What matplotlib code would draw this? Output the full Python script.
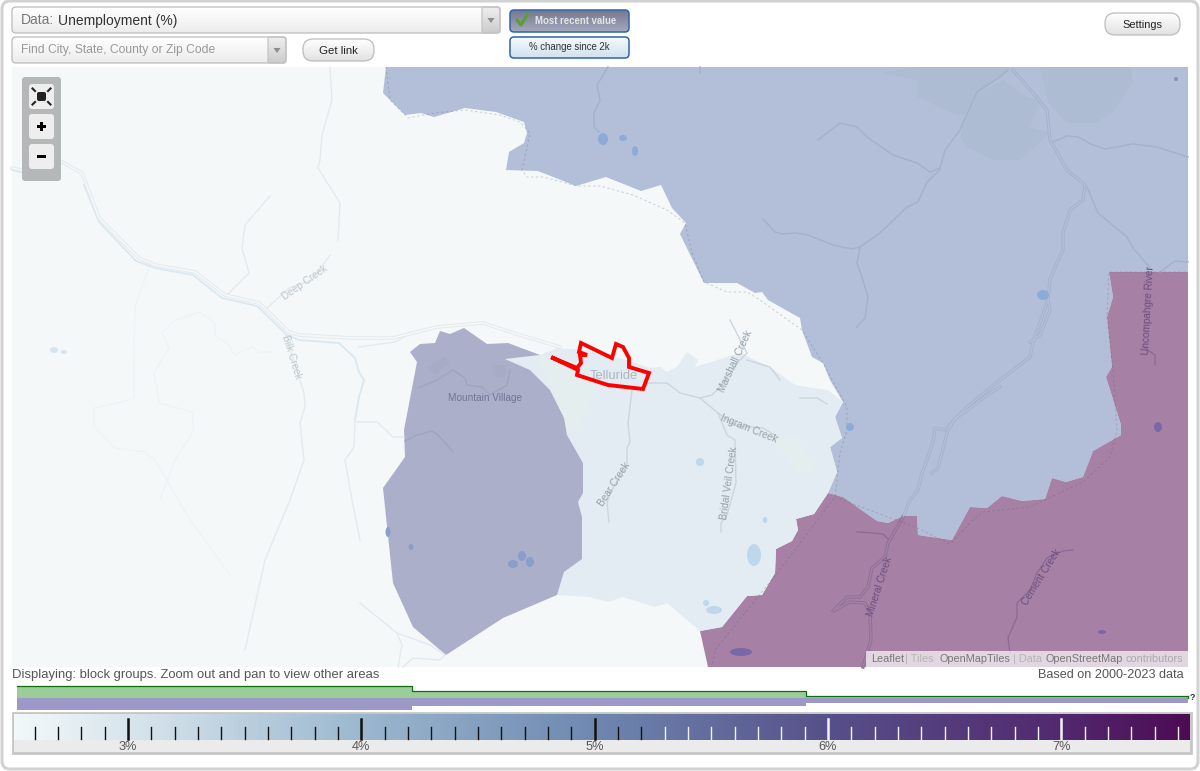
import numpy as np
import matplotlib
matplotlib.use("Agg")
import matplotlib.pyplot as plt
from matplotlib.patches import Polygon, FancyBboxPatch, Rectangle
from matplotlib.colors import LinearSegmentedColormap

plt.rcParams['font.family'] = ['Liberation Sans', 'DejaVu Sans']

# ---------- data ----------
east_edge = [(843,402),(835,417),(842,438),(830,447),(837,472),(828,493),(843,497),(877,521),(888,523),(903,516),(917,516),(918,535),(952,540),(970,507),(987,508),(1002,496),(1022,501),(1045,499),(1052,478),(1066,482),(1083,477),(1093,451),(1121,435),(1121,425),(1106,377),(1112,367),(1107,317),(1113,297),(1109,272),(1188,272)]
blue_region = [(386,67),(383,93),(405,115),(421,113),(434,117),(465,108),(496,112),(524,122),(527,133),(524,143),(509,152),(506,170),(538,171),(576,186),(606,177),(641,191),(661,185),(672,208),(686,223),(680,234),(704,283),(737,283),(755,293),(762,292),(768,300),(800,318),(802,330),(812,357),(823,363),(830,380)] + east_edge + [(1188,67)]
purple_region = [(700,631),(722,627),(747,596),(762,595),(775,573),(776,549),(792,541),(798,530),(796,519),(814,514)] + east_edge[5:] + [(1188,667),(708,667)]
village_region = [(410,352),(420,344),(435,343),(440,331),(450,334),(464,328),(487,344),(508,343),(540,355),(505,359),(530,370),(550,390),(564,418),(567,435),(583,463),(583,493),(578,502),(582,517),(582,559),(564,572),(557,595),(503,618),(446,655),(413,627),(393,583),(383,488),(405,457),(404,430),(417,362)]
light_region = [(505,359),(540,355),(557,348),(585,350),(627,360),(650,368),(660,367),(667,372),(677,367),(687,352),(698,360),(695,367),(740,353),(770,367),(795,385),(813,388),(828,390),(843,402),(835,417),(842,438),(830,447),(837,472),(828,493),(814,514),(796,519),(798,530),(792,541),(776,549),(775,573),(762,595),(747,596),(722,627),(700,631),(667,603),(655,607),(623,597),(608,602),(590,597),(557,595),(564,572),(582,559),(582,517),(578,502),(583,493),(583,463),(567,435),(564,418),(550,390),(530,370)]
park_regions = [
    [(540,355),(580,363),(600,383),(590,400),(577,430),(567,433),(553,393),(542,367)],
    [(762,427),(782,438),(800,437),(803,458),(817,458),(810,472),(797,470),(780,448),(763,437)],
]
urban_regions = [
    [(882,73),(916,67),(1010,67),(1000,77),(977,92),(972,103),(965,115),(957,115),(917,97),(917,80)],
    [(960,137),(970,110),(977,93),(1003,80),(1027,97),(1040,100),(1030,127),(1050,133),(1020,160),(993,160),(967,147)],
    [(1040,67),(1130,67),(1133,83),(1112,113),(1095,123),(1067,123),(1048,103)],
]
village_patches = [[(428,367),(445,356),(450,363),(435,375)],[(492,365),(507,365),(505,377),(495,378)]]
town_outline = [(553,358),(577,368),(581,363),(580,355),(587,355),(579,352),(581,343),(612,358),(616,344),(623,347),(629,358),(629,367),(649,373),(643,389),(608,385),(577,375),(578,370),(553,358)]

road_bg = [
    [(12,168),(29,172),(62,162),(82,173),(99,218),(139,258),(155,265),(195,272),(225,295),(259,303),(289,332),(299,335),(352,338),(393,338),(437,327),(483,323),(520,335),(560,347)],
]
river_water = [
    [(12,170),(29,174),(50,171)],
    [(84,185),(99,222),(136,261),(155,268),(193,275),(222,298),(257,306),(287,335),(299,340),(339,343),(355,358),(359,372),(364,380),(359,397),(355,420)],
]
river_bg = [
    [(227,295),(249,273),(242,248),(245,225),(270,196)],
    [(267,308),(289,288),(312,280),(330,255)],
    [(330,67),(332,100),(322,135),(320,160),(318,168),(340,203),(338,240)],
    [(285,333),(304,393),(305,407),(300,423),(304,460),(290,500),(265,560),(245,650)],
    [(359,347),(395,342),(412,332)],
    [(355,420),(354,447),(345,460),(352,500),(360,540)],
    [(357,422),(377,422),(393,437),(404,437)],
    [(360,603),(397,633),(402,645),(398,667)],
    [(397,633),(430,645),(445,655),(440,660),(413,658),(403,667)],
]
faint_bg = [
    [(149,267),(135,307),(134,360),(134,397),(122,402),(94,408),(94,427),(115,448),(145,452),(155,460),(190,520),(230,575)],
    [(162,333),(175,320),(200,312),(215,323),(215,335),(229,345),(234,355),(252,347),(260,352),(274,352)],
    [(162,333),(169,348),(154,373),(159,403),(192,412),(194,430),(175,460),(160,500)],
]
river_light = [
    [(632,390),(628,423),(630,442),(627,448),(627,465),(610,493),(607,503),(609,522)],
    [(718,413),(727,435),(735,440),(736,483),(727,515),(721,523),(721,532)],
    [(647,383),(667,383),(680,393),(700,398),(718,413),(737,426),(763,428),(778,437)],
    [(700,398),(712,395),(720,387),(740,360),(747,353),(730,320)],
    [(747,360),(770,367),(780,380)],
    [(800,398),(817,398),(827,404)],
]
river_village = [
    [(405,441),(417,435),(432,431),(440,437),(453,452)],
    [(418,388),(437,380),(453,370),(465,378),(467,385),(482,387),(490,395),(507,385),(510,370)],
]
river_blue = [
    [(608,67),(597,85),(600,100),(594,113),(594,127),(599,132)],
    [(700,67),(700,73)],
    [(818,140),(840,123),(857,127),(867,137),(893,155),(917,163),(930,172),(940,168),(945,150),(960,130),(972,103),(977,92),(1000,77),(1008,70)],
    [(940,170),(927,182),(918,202),(907,207),(880,233),(860,247),(852,249),(833,245),(808,235),(796,233),(782,234),(775,232),(763,219)],
    [(860,247),(857,263),(862,277),(868,297),(865,318),(856,328)],
    [(1087,187),(1098,213),(1127,237),(1133,248),(1152,270)],
    [(1160,272),(1175,261),(1188,262)],
    [(1053,142),(1067,136),(1078,137),(1093,145),(1105,149),(1133,144),(1157,147),(1188,157)],
]
road_blue = [
    [(1013,70),(1033,93),(1047,110),(1050,140),(1067,170),(1085,185),(1083,200),(1070,210),(1063,233),(1063,250),(1057,263),(1050,280),(1048,300),(1033,343),(1030,357),(1000,380),(967,407),(945,430),(935,428),(933,442),(928,457),(922,473),(918,490),(910,500),(903,517)],
    [(1048,300),(1050,310),(1040,335),(1030,342)],
    [(1000,387),(983,398),(965,412),(955,418),(947,433),(942,453),(938,468),(932,473)],
]
road_purple = [
    [(903,517),(888,543),(885,557),(872,568),(868,587),(860,597),(847,597),(833,611),(850,602),(865,603),(870,613),(871,640),(863,667)],
]
river_purple = [
    [(1073,550),(1063,551),(1047,558),(1037,573),(1030,590),(1017,603),(1017,617),(1008,638),(1010,653)],
    [(857,532),(873,533),(883,534),(890,541)],
    [(1145,348),(1155,355),(1155,365)],
]
county_line = [(386,67),(390,100),(408,118),(435,113),(465,110),(500,115),(520,122),(530,133),(522,170),(527,177),(543,177),(577,186),(600,186),(633,195),(667,210),(685,223),(692,253),(704,282),(727,292),(747,292),(760,300),(802,330),(823,363),(847,407),(847,430),(840,453),(835,497),(782,567),(715,650),(712,667)]
county_line_b = [(835,497),(917,528),(950,544),(973,520),(983,512),(1030,507),(1083,482),(1110,457),(1117,430),(1113,370),(1107,317),(1109,272),(1188,272)]
lakes_water = [(54,350,4,3),(64,352,3,2)]
lakes_blue = [(603,139,5,6),(623,138,4,3),(635,151,3,5),(1043,295,6,5),(850,427,4,4)]
lakes_dot = [(1176,79,2,2)]
lakes_village = [(513,564,5,4),(522,556,4,5),(530,562,4,5),(411,547,2.5,3),(388,532,2.5,5)]
lakes_light = [(700,462,4,4),(765,520,2.5,3),(754,555,7,11),(706,603,3,3),(714,610,8,4)]
lakes_purple = [(741,652,11,4),(1158,427,4,5),(1102,632,4,2)]
map_labels = [
    ("Deep Creek",305,283,35,"#bdc8cd",7.2),("Bilk Creek",292,357,-73,"#bdc8cd",7.2),
    ("Mountain Village",485,398,0,"#6f7696",7.2),("Telluride",614,376,0,"#aab6be",9.3),
    ("Marshall Creek",735,361,65,"#93a0a9",7.2),("Ingram Creek",749,429,-22,"#93a0a9",7.2),
    ("Bear Creek",614,484,57,"#93a0a9",7.2),("Bridal Veil Creek",729,483,82,"#93a0a9",7.2),
    ("Uncompahgre River",1148,310,87,"#6c4d7f",7.2),("Mineral Creek",880,587,72,"#6c4d7f",7.2),
    ("Cement Creek",1042,577,58,"#6c4d7f",7.2),
]
scale_stops = [2.51,3,4,5,6,7,7.55]
scale_colors = ["#f2f8fa","#d8e5ec","#9bb8cf","#6e88b0","#57508a","#52296f","#4d0b53"]
major_ticks = [3,4,5,6,7]
major_labels = ["3%","4%","5%","6%","7%"]
bin_edges = [2.524,4.217,5.906,7.543]
green_heights = [12,7,2]
purple_heights = [12,8,5]

# ---------- canvas ----------
fig = plt.figure(figsize=(12,7.71), dpi=100, facecolor="white")
ax = fig.add_axes([0,0,1,1]); ax.set_xlim(0,1200); ax.set_ylim(771,0); ax.axis("off")

ax.add_patch(FancyBboxPatch((2,1),1196,768,boxstyle="round,pad=0,rounding_size=8",fc="white",ec="#d2d2d2",lw=2.2))

def grad_box(x,y,w,h,c1,c2,ec="#bcbcbc",r=4,lw=.9,z=3):
    cmap = LinearSegmentedColormap.from_list("g",[c1,c2])
    ax.add_patch(FancyBboxPatch((x,y),w,h,boxstyle=f"round,pad=0,rounding_size={r}",fc="none",ec=ec,lw=lw,zorder=z+.1))
    im = ax.imshow(np.linspace(0,1,32).reshape(-1,1),cmap=cmap,extent=(x,x+w,y+h,y),aspect="auto",zorder=z)
    im.set_clip_path(FancyBboxPatch((x,y),w,h,boxstyle=f"round,pad=0,rounding_size={r}",transform=ax.transData))

def arrow(x,y):
    ax.add_patch(Polygon([(x-3.5,y-2),(x+3.5,y-2),(x,y+3)],fc="#8d8d8d",ec="none",zorder=5))

# top controls
grad_box(12,7,488,26,"#ffffff","#ececec")
grad_box(482,7,18,26,"#efefef","#cccccc",ec="#c4c4c4",r=2); arrow(491,20)
ax.text(21,20.5,"Data:",fontsize=10,color="#777777",va="center",zorder=6)
ax.text(58,20.5,"Unemployment (%)",fontsize=10,color="#333333",va="center",zorder=6)
grad_box(12,37,274,26,"#ffffff","#ececec")
grad_box(268,37,18,26,"#efefef","#cccccc",ec="#c4c4c4",r=2); arrow(277,50)
ax.text(21,50,"Find City, State, County or Zip Code",fontsize=8.7,color="#999999",va="center",zorder=6)
grad_box(303,39,71,22,"#ffffff","#e2e2e2",r=10)
ax.text(338.5,50.5,"Get link",fontsize=8.2,color="#222222",ha="center",va="center",zorder=6)
grad_box(510,10,119,22,"#757990","#a5a8bc",ec="#2f65a5",lw=1.1,r=4)
ax.text(576,20.5,"Most recent value",fontsize=6.9,color="#e6e6e6",weight="bold",ha="center",va="center",zorder=6)
ax.plot([517,521,527],[20,25,15],color="#5aa02c",lw=2.2,zorder=6)
grad_box(510,37,119,21,"#f6fafc","#cfe1ee",ec="#2f65a5",lw=1.1,r=4)
ax.text(569,47,"% change since 2k",fontsize=6.9,color="#333333",ha="center",va="center",zorder=6)
grad_box(1105,13,75,22,"#ffffff","#e2e2e2",r=10)
ax.text(1142,24.5,"Settings",fontsize=7.9,color="#222222",ha="center",va="center",zorder=6)

# map
ax.add_patch(Rectangle((12,67),1176,600,fc="#f4f8f9",ec="none",zorder=1))
for pts,col in [(blue_region,"#b3bfd8"),(purple_region,"#a681a5"),(light_region,"#e3ecf2")]:
    ax.add_patch(Polygon(pts,fc=col,ec="none",zorder=1.2))
for pts in park_regions:
    ax.add_patch(Polygon(pts,fc="#e5eeee",ec="none",zorder=1.25))
for pts in urban_regions:
    ax.add_patch(Polygon(pts,fc="#aebcd3",ec="none",zorder=1.25))
ax.add_patch(Polygon(village_region,fc="#abafca",ec="none",zorder=1.3))
for pts in village_patches:
    ax.add_patch(Polygon(pts,fc="#a6abc6",ec="none",zorder=1.35))

def lines(group,col,lw,z=1.5):
    for ln in group:
        xs,ys = zip(*ln)
        ax.plot(xs,ys,color=col,lw=lw,zorder=z,solid_joinstyle="round")
lines(faint_bg,"#eef3f5",.9)
lines(river_water,"#d9e8f1",1.3)
lines(river_bg,"#e3eaed",1.0)
lines(road_bg,"#e3eaed",2.6); lines(road_bg,"#f4f8f9",1.2,1.55)
lines(river_light,"#cad6dd",1.0)
lines(river_village,"#9ea3bf",.9,1.5)
lines(river_blue,"#a3b2cb",1.1)
lines(road_blue,"#a3b2cb",2.4); lines(road_blue,"#b3bfd8",1.0,1.55)
lines(river_purple,"#8a6a95",.9)
lines(road_purple,"#8f6f98",2.4); lines(road_purple,"#a681a5",1.0,1.55)
for ln in (county_line,county_line_b):
    xs,ys = zip(*ln)
    ax.plot(xs,ys,color="#555566",alpha=.25,lw=.7,dashes=(2.5,2.5),zorder=1.6)

def lakes(group,col):
    t = np.linspace(0,2*np.pi,30)
    for cx,cy,rx,ry in group:
        ax.fill(cx+rx*np.cos(t),cy+ry*np.sin(t),color=col,lw=0,zorder=1.7)
lakes(lakes_water,"#d5e5f0"); lakes(lakes_blue,"#8dabd8"); lakes(lakes_dot,"#8b8fb4")
lakes(lakes_village,"#8a9ec9"); lakes(lakes_light,"#bfd7ea"); lakes(lakes_purple,"#7a67a5")
for label,x,y,rot,col,fs in map_labels:
    ax.text(x,y,label,rotation=rot,color=col,fontsize=fs,ha="center",va="center",rotation_mode="anchor",zorder=2)
xs,ys = zip(*town_outline)
ax.plot(xs,ys,color="#ff0000",lw=2.8,zorder=4,solid_joinstyle="miter")

# zoom controls
ax.add_patch(FancyBboxPatch((22,77),39,104,boxstyle="round,pad=0,rounding_size=3",fc="#b5b8b8",ec="none",zorder=3))
for y0 in (84,114,144):
    ax.add_patch(FancyBboxPatch((29,y0),25,25,boxstyle="round,pad=0,rounding_size=3",fc="#eeeeee",ec="none",zorder=4))
ax.add_patch(FancyBboxPatch((37,92),9,9,boxstyle="round,pad=0,rounding_size=2",fc="#222222",ec="none",zorder=5))
for sx_,sy_ in [(-1,-1),(1,-1),(-1,1),(1,1)]:
    ax.plot([41.5+sx_*6.5,41.5+sx_*9],[96.5+sy_*5.5,96.5+sy_*8],color="#222222",lw=1.5,zorder=5)
ax.add_patch(Rectangle((37,125),9,3,fc="black",ec="none",zorder=5))
ax.add_patch(Rectangle((40,122),3,9,fc="black",ec="none",zorder=5))
ax.add_patch(Rectangle((37,155),9,3,fc="black",ec="none",zorder=5))

# attribution & notes
ax.add_patch(Rectangle((866,651),322,16,fc="white",alpha=.68,ec="none",zorder=5))
for x,t,c in [(871,"Leaflet","#777777"),(905,"| Tiles","#b5b5b5"),(939,"OpenMapTiles","#777777"),(1013,"| Data","#b5b5b5"),(1045,"OpenStreetMap","#777777"),(1125,"contributors","#aaaaaa")]:
    ax.text(x,659.5,t,fontsize=7.8,color=c,va="center",zorder=6)
ax.text(12,675,"Displaying: block groups. Zoom out and pan to view other areas",fontsize=9.37,color="#555555",va="center")
ax.text(1184,675,"Based on 2000-2023 data",fontsize=9.1,color="#555555",va="center",ha="right")
ax.text(1192,697,"?",fontsize=6.5,weight="bold",color="#333333",ha="center",va="center")

# histogram
def to_fig(x0,y0,x1,y1): return [x0/1200,1-y1/771,(x1-x0)/1200,(y1-y0)/771]
hx = fig.add_axes(to_fig(14,684,1190,712)); hx.axis("off")
hx.set_xlim(2.511,7.552); hx.set_ylim(-14,14)
widths = np.diff(bin_edges)
hx.bar(bin_edges[:-1],green_heights,widths,align="edge",color="#9ccc9a",lw=0)
hx.bar(bin_edges[:-1],[-v for v in purple_heights],widths,align="edge",color="#9c99c9",lw=0)
hx.step(bin_edges,green_heights+[green_heights[-1]],where="post",color="#0b6f0b",lw=.9)
hx.plot([bin_edges[-1]]*2,[0,green_heights[-1]],color="#0b6f0b",lw=.9)

# colour scale
ax.add_patch(Rectangle((13,713),1178,40,fc="#ebebeb",ec="#c6c6c6",lw=2,zorder=2))
sx = fig.add_axes(to_fig(14,714,1190,752)); sx.axis("off")
lo,hi = scale_stops[0],scale_stops[-1]
cm = LinearSegmentedColormap.from_list("scale",[((v-lo)/(hi-lo),c) for v,c in zip(scale_stops,scale_colors)])
sx.imshow(np.linspace(0,1,512).reshape(1,-1),cmap=cm,extent=(lo,hi,26,0),aspect="auto")
sx.set_xlim(2.511,7.552); sx.set_ylim(38,0)
sx.add_patch(Rectangle((lo,26),hi-lo,12,fc="#ebebeb",ec="none"))
for v in np.arange(26,76)/10:
    major = abs(v-round(v))<1e-6
    col = "#111111" if v<5.25 else "#f4f4f4"
    sx.plot([v,v],[5 if major else 13,25],color=col,lw=1.8 if major else 1)
for v,l in zip(major_ticks,major_labels):
    sx.text(v,33.2,l,fontsize=9.2,color="#555555",ha="center",va="center")

fig.savefig("out.png",dpi=100)
